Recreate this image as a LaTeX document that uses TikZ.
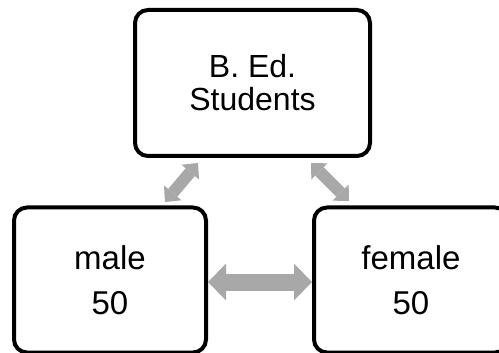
\documentclass[tikz,border=0pt]{standalone}
\usepackage{fontspec}
\setmainfont{Liberation Sans}
\usepackage{xcolor}
\usetikzlibrary{arrows.meta}

\definecolor{arrowgray}{RGB}{168,168,168}

\begin{document}
\begin{tikzpicture}[x=1pt,y=-1pt,
	box/.style={draw=black, line width=4pt, rounded corners=13pt, fill=white,
		align=center, inner sep=0pt},
	toptext/.style={font=\fontsize{32}{33}\selectfont},
	subtext/.style={font=\fontsize{33}{45}\selectfont},
	bigarrow/.style={draw=arrowgray, line width=17pt,
		{Triangle[width=37pt,length=18pt,line width=0pt]}-{Triangle[width=37pt,length=18pt,line width=0pt]}},
	smallarrow/.style={draw=arrowgray, line width=12pt,
		{Triangle[width=23pt,length=12pt,line width=0pt]}-{Triangle[width=23pt,length=12pt,line width=0pt]}}]
	\useasboundingbox (0,0) rectangle (499,353);
	% boxes
	\node [box, toptext, minimum width=235pt, minimum height=146pt] (students) at (252.5,83) {B. Ed.\\Students};
	\node [box, subtext, minimum width=192pt, minimum height=145pt] (male) at (110,280) {male\\50};
	\node [box, subtext, minimum width=194pt, minimum height=145pt] (female) at (411,280) {female\\50};
	% arrow ends
	\coordinate (maleup) at (165,202);
	\coordinate (studentsleft) at (198,163);
	\coordinate (studentsright) at (311,163);
	\coordinate (femaleup) at (349,201);
	% arrows
	\draw [smallarrow] (maleup) -- (studentsleft);
	\draw [smallarrow] (studentsright) -- (femaleup);
	\draw [bigarrow] ([yshift=-2pt]male.east) -- ([yshift=-2pt]female.west);
\end{tikzpicture}
\end{document}
